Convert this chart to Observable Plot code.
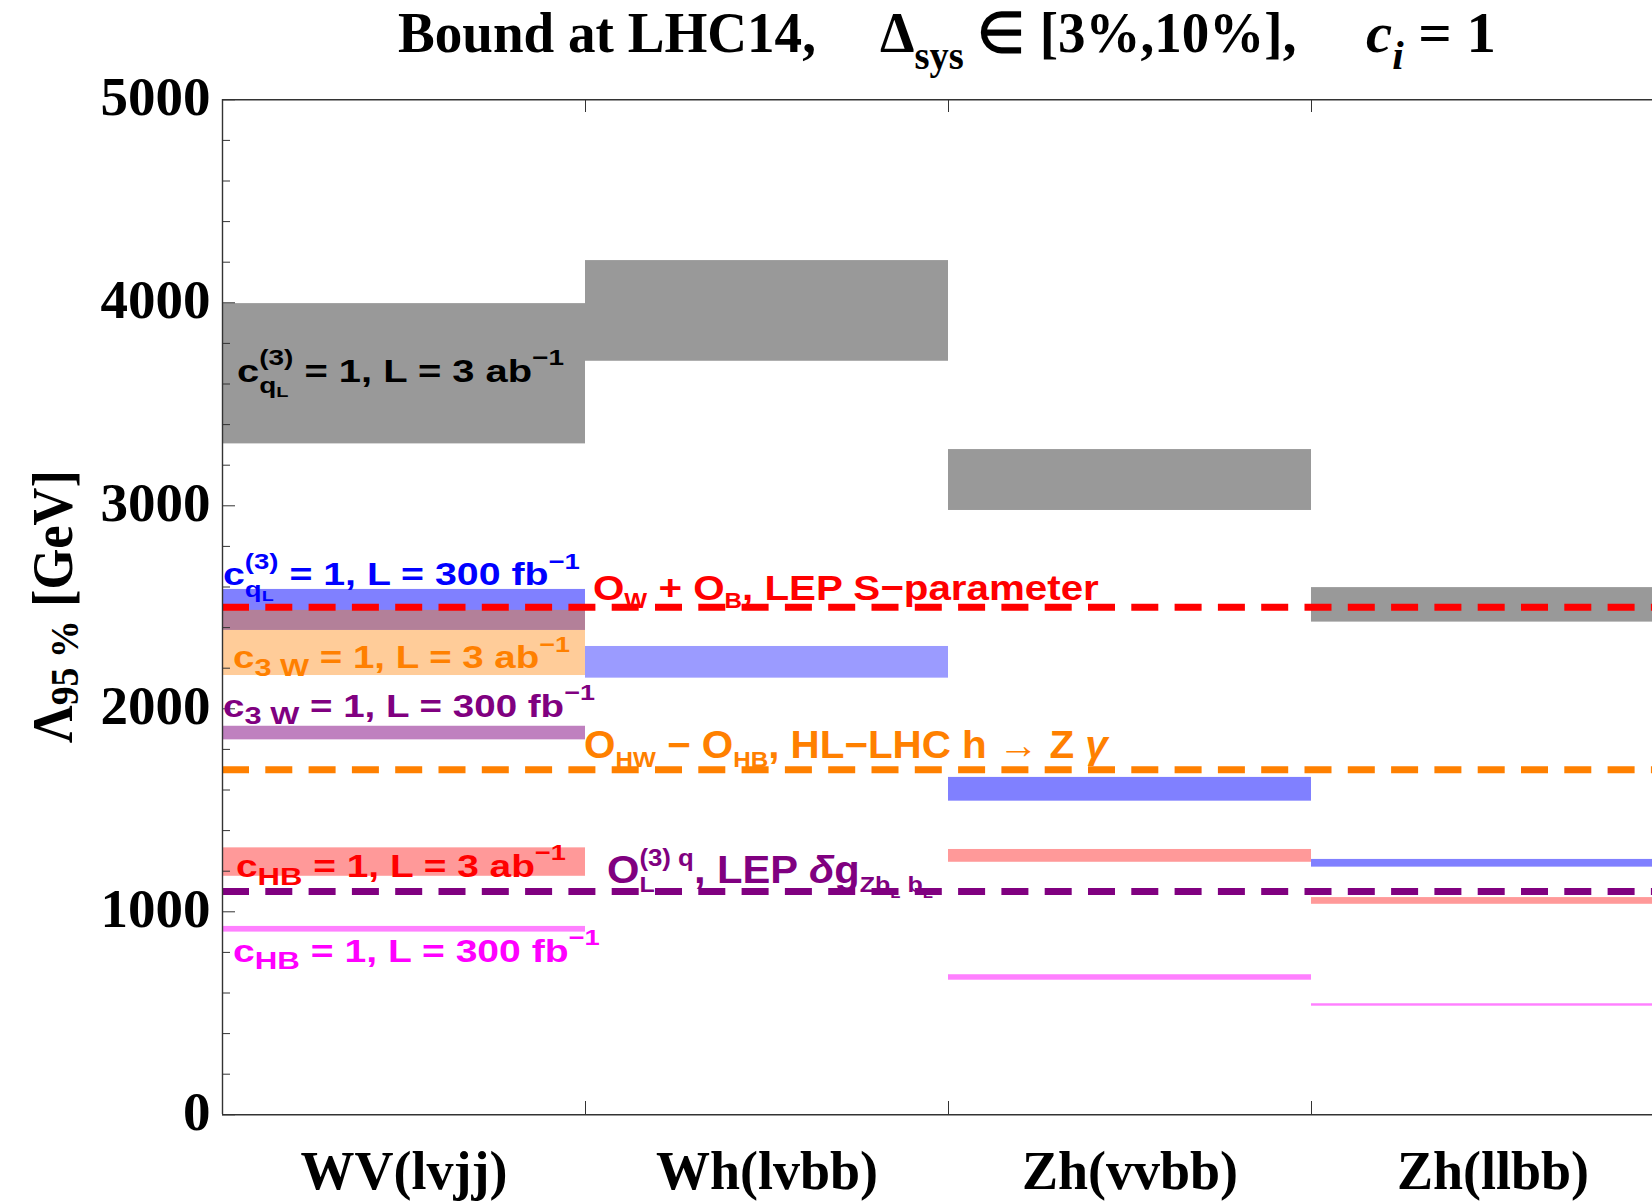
<!DOCTYPE html>
<html><head><meta charset="utf-8">
<script src="https://cdn.jsdelivr.net/npm/d3@7"></script>
<script src="https://cdn.jsdelivr.net/npm/@observablehq/plot@0.6"></script>
<style>
html,body{margin:0;padding:0;background:#fff;overflow:hidden;}
svg{max-width:none !important;}
</style></head><body>
<script>
// ---------------- data ----------------
const categories = ["WV(lvjj)", "Wh(lvbb)", "Zh(vvbb)", "Zh(llbb)"];
// bands [low, high] of Lambda_95% (GeV) per channel; null = not shown
const qL3abLow   = [3305, 3712, 2977, 2427];
const qL3abHigh  = [3996, 4208, 3277, 2597];
const qL300Low   = [2386, 2151, 1545, 1220];
const qL300High  = [2588, 2307, 1662, 1258];
const c3W3abLow  = [2164, null, null, null];
const c3W3abHigh = [2485, null, null, null];
const c3W300Low  = [1847, null, null, null];
const c3W300High = [1914, null, null, null];
const cHB3abLow  = [1175, null, 1244, 1037];
const cHB3abHigh = [1315, null, 1307, 1070];
const cHB300Low  = [900, null, 663, 535];
const cHB300High = [928, null, 690, 547];
// horizontal reference bounds (GeV)
const lepSBound = 2500;
const hZgammaBound = 1700;
const lepZbbBound = 1100;
const yTickValues = [0, 1000, 2000, 3000, 4000, 5000];
const yTickLabels = ["0", "1000", "2000", "3000", "4000", "5000"];
const title = ["Bound at LHC14,", "Δ", "sys", " ∈ [3%,10%],", "c", "i", " = 1"];
const yLabel = ["Λ", "95 %", " [GeV]"];

// annotation texts: [category index, GeV value of baseline, rich parts]
const annotations = [
  {key:"qL3ab", cat:0, at:3609, parts:["c",["sub","q"],["ssub","L"],["sup","(3)",2]," = 1, L = 3 ab",["sup","−1"]]},
  {key:"qL300", cat:0, at:2607, parts:["c",["sub","q"],["ssub","L"],["sup","(3)",2]," = 1, L = 300 fb",["sup","−1"]]},
  {key:"c3W3ab", cat:0, at:2197, parts:["c",["sub","3 W"]," = 1, L = 3 ab",["sup","−1"]]},
  {key:"c3W300", cat:0, at:1959, parts:["c",["sub","3 W"]," = 1, L = 300 fb",["sup","−1"]]},
  {key:"cHB3ab", cat:0, at:1170, parts:["c",["sub","HB"]," = 1, L = 3 ab",["sup","−1"]]},
  {key:"cHB300", cat:0, at:752, parts:["c",["sub","HB"]," = 1, L = 300 fb",["sup","−1"]]},
  {key:"lepS", cat:1, at:2533, parts:["O",["sub","W"]," + O",["sub","B"],", LEP S−parameter"]},
  {key:"hZg", cat:1, at:1754, parts:["O",["sub","HW"]," − O",["sub","HB"],", HL−LHC h → Z ",["n","γ",0,"i"]]},
  {key:"lepZbb", cat:1, at:1138, parts:["O",["sub","L"],["sup","(3) q",1],", LEP ",["n","δ",0,"i"],"g",["sub","Zb"],["ssub","L"],["sub"," b"],["ssub","L"]]}
];

// ---------------- styles ----------------
const style = {
  qL3ab:  {fill:"#999999", text:"#000000", dx:15, size:31, width:327},
  qL300:  {fill:"#8080ff", text:"#0000ff", dx:1,  size:31, width:357},
  c3W3ab: {fill:"#ff8000", op:0.4, text:"#ff8000", dx:11, size:31, width:337},
  c3W300: {fill:"#bf80bf", text:"#800080", dx:1,  size:31, width:372},
  cHB3ab: {fill:"#ff9999", text:"#ff0000", dx:14, size:31, width:330},
  cHB300: {fill:"#ff80ff", text:"#ff00ff", dx:11, size:31, width:367},
  lepS:   {text:"#ff0000", dx:8,  size:36, width:506},
  hZg:    {text:"#ff8000", dx:-1, size:38, width:526},
  lepZbb: {text:"#800080", dx:22, size:38, width:326}
};
const levelsA = {n:{k:1,dy:0}, sub:{k:0.7,dy:0.38}, ssub:{k:0.5,dy:0.5}, sup:{k:0.7,dy:-0.53}};
const levelsB = {n:{k:1,dy:0}, sub:{k:0.8,dy:0.25}, ssub:{k:0.5,dy:0.45}, sup:{k:0.7,dy:-0.53}};
const levelsC = {n:{k:1,dy:0}, sub:{k:0.6,dy:0.22}, ssub:{k:0.4,dy:0.4}, sup:{k:0.62,dy:-0.45}};
const levelFor = {qL3ab:levelsA, qL300:levelsA, c3W3ab:levelsB, c3W300:levelsB, cHB3ab:levelsB, cHB300:levelsB, lepS:levelsC, hZg:levelsC, lepZbb:levelsC};

// ---------------- table ----------------
const seriesList = [
  ["qL3ab", qL3abLow, qL3abHigh], ["qL300", qL300Low, qL300High],
  ["c3W3ab", c3W3abLow, c3W3abHigh], ["c3W300", c3W300Low, c3W300High],
  ["cHB3ab", cHB3abLow, cHB3abHigh], ["cHB300", cHB300Low, cHB300High]
];
const bands = [];
for (const [key, lo, hi] of seriesList)
  categories.forEach((c, i) => { if (lo[i] != null) bands.push({key, i, cat:c, lo:lo[i], hi:hi[i]}); });

// ---------------- rich text helpers ----------------
const NS = "http://www.w3.org/2000/svg";
function el(n){ return document.createElementNS(NS, n); }
function rich(parts, size, fill, family, levels, anchor = "start"){
  const t = el("text");
  t.setAttribute("font-family", family);
  t.setAttribute("font-weight", "bold");
  t.setAttribute("fill", fill);
  t.setAttribute("text-anchor", anchor);
  t.setAttribute("style", "white-space:pre");
  let cur = 0;
  for (const p of parts){
    const [lv, str, back, st] = typeof p === "string" ? ["n", p] : p;
    const L = levels[lv];
    const s = el("tspan");
    s.setAttribute("font-size", size * L.k);
    const shift = size * L.dy;
    if (shift !== cur) s.setAttribute("dy", shift - cur);
    cur = shift;
    if (back) s.dataset.back = back;
    if (st === "i") s.setAttribute("font-style", "italic");
    s.textContent = str;
    t.append(s);
  }
  return t;
}
function place(t, x, y, w, rot){
  t.dataset.x = x; t.dataset.y = y; if (w) t.dataset.w = w; if (rot) t.dataset.rot = rot;
  t.setAttribute("transform", `translate(${x},${y})` + (rot ? ` rotate(${rot})` : ""));
  t.classList.add("rich");
  return t;
}

const annotationMark = (index, scales) => {
  const g = el("g");
  for (const a of annotations){
    const s = style[a.key];
    const t = rich(a.parts, s.size, s.text, "Liberation Sans, Arial, sans-serif", levelFor[a.key]);
    g.append(place(t, scales.x(a.cat) + s.dx, scales.y(a.at), s.width));
  }
  return g;
};

const titleMark = (index, scales, values, dim) => {
  const g = el("g");
  const lv = {n:{k:1,dy:0}, sub:{k:0.7,dy:0.3}};
  const F = "Liberation Serif, Times New Roman, serif";
  g.append(place(rich([title[0]], 56, "#000", F, lv), 398, 52, 418));
  g.append(place(rich([title[1], ["sub", title[2]], title[3]], 56, "#000", F, lv), 880, 52, 416));
  g.append(place(rich([["n", title[4], 0, "i"], ["sub", title[5], 0, "i"], title[6]], 56, "#000", F, lv), 1366, 52, 130));
  const yl = rich([yLabel[0], ["sub", yLabel[1]], yLabel[2]], 56, "#000", F, {n:{k:1,dy:0}, sub:{k:0.72,dy:0.1}}, "middle");
  g.append(place(yl, 72, (dim.marginTop + dim.height - dim.marginBottom) / 2, 273, -90));
  return g;
};

// ---------------- plot ----------------
const fillOf = d => (d.key === "qL300" && d.i === 1) ? "#9b9bff" : style[d.key].fill;
const axisColor = "#333333";

const chart = Plot.plot({
  width: 1652, height: 1201,
  marginTop: 99, marginBottom: 87, marginLeft: 222, marginRight: 0,
  style: {fontFamily: "Liberation Serif, serif", background: "white", color: "black"},
  x: {domain: [0, 4], range: [222, 1674], axis: null},
  y: {domain: [0, 5000], range: [1114.3, 99.3], axis: null},
  color: {type: "identity"},
  marks: [
    Plot.rect(bands.filter(d => d.key !== "c3W3ab"), {x1: "i", x2: d => d.i + 1, y1: "lo", y2: "hi", fill: fillOf}),
    Plot.rect(bands.filter(d => d.key === "c3W3ab"), {x1: "i", x2: d => d.i + 1, y1: "lo", y2: "hi", fill: style.c3W3ab.fill, fillOpacity: style.c3W3ab.op}),
    Plot.ruleY([lepSBound], {stroke: "#ff0000", strokeWidth: 7, strokeDasharray: "27,16.3"}),
    Plot.ruleY([hZgammaBound], {stroke: "#ff8000", strokeWidth: 7, strokeDasharray: "27,16.3"}),
    Plot.ruleY([lepZbbBound], {stroke: "#800080", strokeWidth: 7, strokeDasharray: "27,16.3"}),
    // frame
    Plot.ruleY([0, 5000], {stroke: axisColor, strokeWidth: 1.4}),
    Plot.ruleX([0], {stroke: axisColor, strokeWidth: 1.4}),
    // y ticks
    Plot.axisY({ticks: yTickValues, tickSize: -13, tickFormat: () => "", label: null, stroke: axisColor}),
    Plot.axisY({ticks: d3.range(200, 5000, 200).filter(v => v % 1000), tickSize: -8, tickFormat: () => "", label: null, stroke: axisColor}),
    Plot.axisY({ticks: yTickValues, tickSize: 0, tickPadding: 12, tickFormat: v => yTickLabels[yTickValues.indexOf(v)], label: null, fontSize: 55, fontWeight: "bold", dy: -2}),
    // x category boundary ticks
    Plot.axisX({anchor: "bottom", ticks: [1, 2, 3], tickSize: -13, tickFormat: () => "", label: null, stroke: axisColor}),
    Plot.axisX({anchor: "top", ticks: [1, 2, 3], tickSize: -12, tickFormat: () => "", label: null, stroke: axisColor}),
    Plot.axisX({anchor: "bottom", ticks: [0.5, 1.5, 2.5, 3.5], tickSize: 0, tickPadding: 36, tickFormat: v => categories[Math.floor(v)], label: null, fontSize: 54, fontWeight: "bold"}),
    annotationMark,
    titleMark
  ]
});
document.body.append(chart);

// post layout: stack sub/superscripts and fit widths
document.querySelectorAll("text.rich").forEach(t => {
  const spans = [...t.querySelectorAll("tspan")];
  spans.forEach((s, i) => {
    const b = +s.dataset.back || 0;
    if (b) { let w = 0; for (let j = i - b; j < i; j++) w += spans[j].getComputedTextLength(); s.setAttribute("dx", -w); }
  });
  const rot = t.dataset.rot ? ` rotate(${t.dataset.rot})` : "";
  let sx = 1;
  if (t.dataset.w) { const bb = t.getBBox(); if (bb.width > 0) sx = +t.dataset.w / bb.width; }
  t.setAttribute("transform", `translate(${t.dataset.x},${t.dataset.y})${rot} scale(${sx},1)`);
});
</script>
</body></html>
